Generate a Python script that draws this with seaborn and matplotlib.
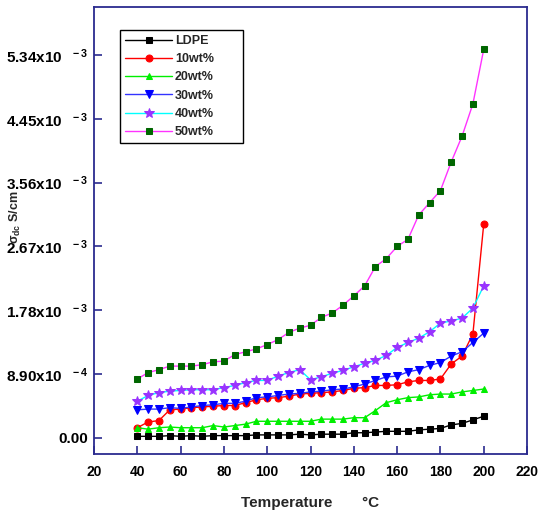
import pandas as pd
import seaborn as sns
import matplotlib.pyplot as plt

# temperature (°C) and conductivity values in units of 1e-3 S/cm
temps = list(range(40, 205, 5))
ldpe = [0.02, 0.02, 0.02, 0.03, 0.02, 0.03, 0.02, 0.03, 0.03, 0.03, 0.03,
        0.04, 0.04, 0.04, 0.04, 0.05, 0.04, 0.05, 0.05, 0.05, 0.07, 0.07,
        0.08, 0.09, 0.09, 0.09, 0.11, 0.12, 0.13, 0.18, 0.20, 0.25, 0.30]
wt10 = [0.14, 0.22, 0.24, 0.39, 0.40, 0.42, 0.43, 0.44, 0.45, 0.45, 0.49,
        0.53, 0.55, 0.56, 0.58, 0.61, 0.62, 0.63, 0.64, 0.66, 0.69, 0.70,
        0.73, 0.73, 0.74, 0.78, 0.80, 0.80, 0.82, 1.03, 1.14, 1.45, 2.98]
wt20 = [0.14, 0.12, 0.14, 0.15, 0.14, 0.14, 0.14, 0.17, 0.15, 0.17, 0.19,
        0.23, 0.23, 0.23, 0.23, 0.23, 0.23, 0.26, 0.26, 0.26, 0.28, 0.28,
        0.38, 0.49, 0.53, 0.56, 0.57, 0.60, 0.61, 0.61, 0.64, 0.66, 0.68]
wt30 = [0.39, 0.40, 0.40, 0.42, 0.41, 0.43, 0.45, 0.46, 0.48, 0.48, 0.51,
        0.56, 0.57, 0.59, 0.61, 0.62, 0.64, 0.65, 0.67, 0.68, 0.71, 0.75,
        0.80, 0.85, 0.86, 0.92, 0.95, 1.01, 1.05, 1.14, 1.20, 1.33, 1.46]
wt40 = [0.51, 0.59, 0.63, 0.65, 0.66, 0.67, 0.67, 0.67, 0.70, 0.73, 0.77,
        0.80, 0.80, 0.86, 0.91, 0.95, 0.81, 0.85, 0.90, 0.94, 0.99, 1.04,
        1.08, 1.15, 1.26, 1.33, 1.39, 1.48, 1.60, 1.63, 1.67, 1.81, 2.12]
wt50 = [0.82, 0.91, 0.95, 1.00, 1.00, 1.00, 1.02, 1.06, 1.07, 1.16, 1.20,
        1.24, 1.30, 1.37, 1.47, 1.53, 1.57, 1.68, 1.74, 1.85, 1.98, 2.12,
        2.39, 2.50, 2.67, 2.77, 3.11, 3.28, 3.45, 3.85, 4.21, 4.66, 5.42]

labels = ['LDPE', '10wt%', '20wt%', '30wt%', '40wt%', '50wt%']
series = [ldpe, wt10, wt20, wt30, wt40, wt50]

ytick_vals = [0.0, 0.89e-3, 1.78e-3, 2.67e-3, 3.56e-3, 4.45e-3, 5.34e-3]
ytick_labels = ['0.00', r'8.90x10$^{\quad-4}$', r'1.78x10$^{\quad-3}$',
                r'2.67x10$^{\quad-3}$', r'3.56x10$^{\quad-3}$',
                r'4.45x10$^{\quad-3}$', r'5.34x10$^{\quad-3}$']
xtick_vals = list(range(20, 221, 20))

# line colour, marker, marker colour, marker size
styles = [
    ('black', 's', 'black', 4),
    ('#ff0000', 'o', '#ff0000', 5),
    ('#00ee00', '^', '#00ee00', 5),
    ('#3333ff', 'v', '#0000ff', 6),
    ('#00ffff', '*', '#9933ff', 7),
    ('#ff33ff', 's', '#006600', 5),
]

sns.set_style('ticks')
plt.rcParams['font.family'] = ['Liberation Sans', 'DejaVu Sans']
plt.rcParams['font.weight'] = 'bold'
plt.rcParams['mathtext.fontset'] = 'custom'
plt.rcParams['mathtext.rm'] = 'Liberation Sans:bold'
plt.rcParams['mathtext.it'] = 'Liberation Sans:bold'
plt.rcParams['mathtext.bf'] = 'Liberation Sans:bold'

fig = plt.figure(figsize=(5.38, 5.11), dpi=100)
ax = fig.add_axes([0.1747, 0.1115, 0.8049, 0.8745])

for lab, vals, (lc, mk, mc, ms) in zip(labels, series, styles):
    df = pd.DataFrame({'T': temps, 'sigma': [v * 1e-3 for v in vals]})
    sns.lineplot(data=df, x='T', y='sigma', ax=ax, color=lc, linewidth=1,
                 marker=mk, markerfacecolor=mc, markeredgecolor=mc,
                 markersize=ms, label=lab)

ax.set_xlim(20, 220)
ax.set_ylim(-0.227e-3, 6.01e-3)
ax.set_xticks(xtick_vals)
ax.set_xticklabels([str(v) for v in xtick_vals], fontsize=10, fontweight='bold')
ax.set_yticks(ytick_vals)
ax.set_yticklabels(ytick_labels, fontsize=11, fontweight='bold')

navy = '#2b2b8f'
for sp in ax.spines.values():
    sp.set_visible(True)
    sp.set_color(navy)
    sp.set_linewidth(1.3)
ax.tick_params(axis='both', direction='in', length=6, width=1.2, color=navy,
               labelcolor='black')
ax.tick_params(axis='x', pad=8)
ax.tick_params(axis='y', pad=4)

ax.set_xlabel('Temperature       °C', fontsize=11, fontweight='bold')
ax.xaxis.set_label_coords(0.5, -0.095)
ax.set_ylabel(r'$\sigma_{dc}$ S/cm', fontsize=9, fontweight='bold')
ax.yaxis.set_label_coords(-0.165, 0.53)

leg = ax.legend(loc='upper left', bbox_to_anchor=(0.06, 0.5, 0.284, 0.449),
                mode='expand', borderaxespad=0, frameon=True, fancybox=False,
                framealpha=1, handlelength=3.8, handletextpad=0.2,
                labelspacing=0.5, borderpad=0.4,
                prop={'size': 9, 'weight': 'bold'})
leg.get_frame().set_edgecolor('black')
leg.get_frame().set_linewidth(1)

plt.savefig('out.png', dpi=100)
